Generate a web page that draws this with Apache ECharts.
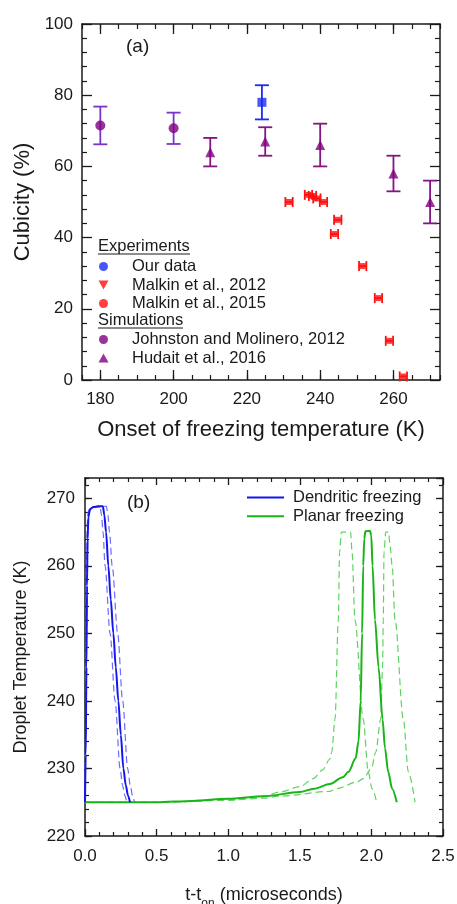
<!DOCTYPE html>
<html lang="en" style="width: 100%;height:100%">
    <head>
        <meta charset="UTF-8">
        <title>Cubicity and droplet temperature</title>
        <script src="https://cdn.jsdelivr.net/npm/echarts@6.0.0/dist/echarts.min.js"></script>
    </head>
    <body style="width: 100%;height:100%;margin:0;background:#fff">
        <div id="chart" style="width: 457px;height:904px"></div>
        <script>
            // (a) cubicity vs onset of freezing temperature
            const ourTemp = [224.1];
            const ourCub = [78];
            const ourErr = [4.8];

            const malkin12Temp = [231.5];
            const malkin12Cub = [50];
            const malkin15Temp = [236.8, 237.9, 239.1, 240.9, 244.8, 243.9, 251.6, 255.9, 258.9, 262.7];
            const malkin15Cub = [52, 51.7, 51, 50, 45, 41, 32, 23, 11, 1];
            const malkinTempErr = 1.0;

            const johnstonTemp = [180, 200];
            const johnstonCub = [71.5, 70.7];
            const johnstonErr = [5.3, 4.4];

            const hudaitTemp = [210, 225, 240, 260, 270];
            const hudaitCub = [64, 67, 66, 58, 50];
            const hudaitErr = [4, 4, 6, 5, 6];

            const tempTicks = [180, 200, 220, 240, 260];

            // (b) droplet temperature vs t - t_on
            const dendTime = [0, 0.005, 0.01, 0.014, 0.018, 0.024, 0.035, 0.06, 0.09, 0.125, 0.135, 0.147, 0.163, 0.18, 0.198, 0.215, 0.233, 0.25, 0.268, 0.285, 0.3, 0.314];
            const dendTemp = [225, 232, 245, 257, 264, 267.3, 268.4, 268.7, 268.8, 268.8, 267.5, 265, 260, 255, 250, 245, 240, 235, 230, 227.5, 226, 225];
            const dendLoTime = [0, 0.004, 0.008, 0.012, 0.016, 0.022, 0.035, 0.06, 0.105, 0.115, 0.126, 0.14, 0.175, 0.21, 0.245, 0.262, 0.278, 0.291];
            const dendLoTemp = [225, 235, 250, 262, 266.5, 268, 268.6, 268.7, 268.8, 267.5, 265, 260, 250, 240, 230, 227.5, 226, 225];
            const dendHiTime = [0, 0.006, 0.012, 0.017, 0.022, 0.03, 0.045, 0.08, 0.15, 0.16, 0.171, 0.19, 0.228, 0.263, 0.298, 0.316, 0.332, 0.345];
            const dendHiTemp = [225, 235, 250, 262, 266.5, 268, 268.6, 268.7, 268.8, 267.5, 265, 260, 250, 240, 230, 227.5, 226, 225];

            const planTime = [0, 0.5, 0.75, 1.0, 1.25, 1.5, 1.6, 1.71, 1.8, 1.84, 1.89, 1.91, 1.925, 1.935, 1.943, 1.95, 1.958, 1.99, 1.999, 2.008, 2.025, 2.05, 2.078, 2.095, 2.117, 2.145, 2.177];
            const planTemp = [225, 225, 225.2, 225.5, 225.9, 226.5, 227, 227.7, 228.7, 229.5, 231.5, 234, 240, 250, 260, 264, 265.1, 265.2, 264.5, 260, 252, 245, 237.3, 233, 229.5, 227, 225];
            const planLoTime = [0, 0.5, 1.0, 1.25, 1.36, 1.5, 1.594, 1.66, 1.71, 1.723, 1.746, 1.769, 1.778, 1.79, 1.855, 1.865, 1.885, 1.943, 1.978, 2.005, 2.037];
            const planLoTemp = [225, 225, 225.3, 225.9, 226.5, 227.3, 228.5, 229.8, 231.4, 232.4, 237.3, 252, 262, 265, 265, 262, 252, 237.3, 229.5, 227, 225];
            const planHiTime = [0, 0.5, 1.0, 1.25, 1.36, 1.71, 1.757, 1.9, 1.943, 2.0, 2.03, 2.065, 2.078, 2.083, 2.088, 2.1, 2.12, 2.13, 2.145, 2.165, 2.223, 2.258, 2.305];
            const planHiTemp = [225, 225, 225.3, 225.6, 225.9, 226.6, 227, 228, 228.5, 230, 232.4, 237.3, 245, 252, 262, 265, 265, 263, 260, 252, 237.3, 229.5, 225];

            const font = 'Liberation Sans, Arial, sans-serif';
            const ink = '#1a1a1a';

            function pairs(xs, ys) {
                const out = [];
                for (let i = 0; i < xs.length; i++) {
                    out.push([xs[i], ys[i]]);
                }
                return out;
            }

            function vErrData(xs, ys, es) {
                const out = [];
                for (let i = 0; i < xs.length; i++) {
                    out.push([xs[i], ys[i] - es[i], ys[i] + es[i]]);
                }
                return out;
            }

            function hErrData(xs, ys, e) {
                const out = [];
                for (let i = 0; i < xs.length; i++) {
                    out.push([xs[i] - e, xs[i] + e, ys[i]]);
                }
                return out;
            }

            // vertical error bar with caps
            function vErrItem(params, api) {
                const top = api.coord([api.value(0), api.value(2)]);
                const bot = api.coord([api.value(0), api.value(1)]);
                const w = 7;
                const style = {stroke: api.visual('color'), lineWidth: 1.8};
                return {
                    type: 'group',
                    children: [
                        {type: 'line', shape: {x1: top[0], y1: top[1], x2: bot[0], y2: bot[1]}, style: style},
                        {type: 'line', shape: {x1: top[0] - w, y1: top[1], x2: top[0] + w, y2: top[1]}, style: style},
                        {type: 'line', shape: {x1: bot[0] - w, y1: bot[1], x2: bot[0] + w, y2: bot[1]}, style: style}
                    ]
                };
            }

            // horizontal error bar with caps
            function hErrItem(params, api) {
                const l = api.coord([api.value(0), api.value(2)]);
                const r = api.coord([api.value(1), api.value(2)]);
                const h = 5;
                const style = {stroke: api.visual('color'), lineWidth: 1.8};
                return {
                    type: 'group',
                    children: [
                        {type: 'line', shape: {x1: l[0], y1: l[1], x2: r[0], y2: r[1]}, style: style},
                        {type: 'line', shape: {x1: l[0], y1: l[1] - h, x2: l[0], y2: l[1] + h}, style: style},
                        {type: 'line', shape: {x1: r[0], y1: r[1] - h, x2: r[0], y2: r[1] + h}, style: style}
                    ]
                };
            }

            const axisLine = {show: true, lineStyle: {color: ink, width: 1.5}};
            const labelStyle = {color: ink, fontFamily: font, fontSize: 17};
            const legendText = {color: ink, fontFamily: font, fontSize: 16.5, lineHeight: 16.5};

            const myChart = echarts.init(document.getElementById('chart'));

            const option = {
                backgroundColor: '#ffffff',
                animation: false,
                textStyle: {fontFamily: font},
                grid: [
                    {left: 82, top: 24, right: 17, bottom: 524, outerBoundsMode: 'none', containLabel: false},
                    {left: 85, top: 478, right: 14, bottom: 68, outerBoundsMode: 'none', containLabel: false}
                ],
                xAxis: [
                    {
                        gridIndex: 0, type: 'value', position: 'bottom', min: 175, max: 272.7,
                        name: 'Onset of freezing temperature (K)', nameLocation: 'middle', nameGap: 39,
                        nameTextStyle: {color: ink, fontFamily: font, fontSize: 22},
                        axisLine: axisLine,
                        axisTick: {inside: true, length: 10, customValues: tempTicks, lineStyle: {color: ink, width: 1.3}},
                        axisLabel: Object.assign({margin: 11, customValues: tempTicks}, labelStyle),
                        splitLine: {show: false}
                    },
                    {
                        gridIndex: 0, type: 'value', position: 'bottom', min: 175, max: 272.7, interval: 5,
                        axisLine: {show: false},
                        axisTick: {inside: true, length: 5, lineStyle: {color: ink, width: 1.2}},
                        axisLabel: {show: false}, splitLine: {show: false}
                    },
                    {
                        gridIndex: 0, type: 'value', position: 'top', min: 175, max: 272.7,
                        axisLine: axisLine,
                        axisTick: {inside: true, length: 10, customValues: tempTicks, lineStyle: {color: ink, width: 1.3}},
                        axisLabel: {show: false}, splitLine: {show: false}
                    },
                    {
                        gridIndex: 0, type: 'value', position: 'top', min: 175, max: 272.7, interval: 5,
                        axisLine: {show: false},
                        axisTick: {inside: true, length: 5, lineStyle: {color: ink, width: 1.2}},
                        axisLabel: {show: false}, splitLine: {show: false}
                    },
                    {
                        gridIndex: 1, type: 'value', position: 'bottom', min: 0, max: 2.5, interval: 0.5,
                        name: '{a|t-t}{s|on}{a| (microseconds)}', nameLocation: 'middle', nameGap: 50,
                        nameTextStyle: {
                            rich: {
                                a: {color: ink, fontFamily: font, fontSize: 18, lineHeight: 24, verticalAlign: 'top'},
                                s: {color: ink, fontFamily: font, fontSize: 12, lineHeight: 12, verticalAlign: 'bottom'}
                            }
                        },
                        axisLine: axisLine,
                        axisTick: {inside: true, length: 7, lineStyle: {color: ink, width: 1.3}},
                        minorTick: {show: true, splitNumber: 5, length: 4, lineStyle: {color: ink, width: 1.2}},
                        axisLabel: Object.assign({margin: 12, formatter: function (v) { return v.toFixed(1); }}, labelStyle),
                        splitLine: {show: false}, minorSplitLine: {show: false}
                    },
                    {
                        gridIndex: 1, type: 'value', position: 'top', min: 0, max: 2.5, interval: 0.5,
                        axisLine: axisLine,
                        axisTick: {inside: true, length: 7, lineStyle: {color: ink, width: 1.3}},
                        minorTick: {show: true, splitNumber: 5, length: 4, lineStyle: {color: ink, width: 1.2}},
                        axisLabel: {show: false}, splitLine: {show: false}
                    }
                ],
                yAxis: [
                    {
                        gridIndex: 0, type: 'value', position: 'left', min: 0, max: 100, interval: 20,
                        name: 'Cubicity (%)', nameLocation: 'middle', nameGap: 45,
                        nameTextStyle: {color: ink, fontFamily: font, fontSize: 22},
                        axisLine: axisLine,
                        axisTick: {inside: true, length: 10, lineStyle: {color: ink, width: 1.3}},
                        minorTick: {show: true, splitNumber: 5, length: 5, lineStyle: {color: ink, width: 1.2}},
                        axisLabel: Object.assign({margin: 9}, labelStyle),
                        splitLine: {show: false}
                    },
                    {
                        gridIndex: 0, type: 'value', position: 'right', min: 0, max: 100, interval: 20,
                        axisLine: axisLine,
                        axisTick: {inside: true, length: 10, lineStyle: {color: ink, width: 1.3}},
                        minorTick: {show: true, splitNumber: 5, length: 5, lineStyle: {color: ink, width: 1.2}},
                        axisLabel: {show: false}, splitLine: {show: false}
                    },
                    {
                        gridIndex: 1, type: 'value', position: 'left', min: 220, max: 273, interval: 10,
                        name: 'Droplet Temperature (K)', nameLocation: 'middle', nameGap: 55,
                        nameTextStyle: {color: ink, fontFamily: font, fontSize: 18},
                        axisLine: axisLine,
                        axisTick: {inside: true, length: 7, lineStyle: {color: ink, width: 1.3}},
                        axisLabel: Object.assign({margin: 10, showMaxLabel: false}, labelStyle),
                        splitLine: {show: false}
                    },
                    {
                        gridIndex: 1, type: 'value', position: 'left', min: 220, max: 273, interval: 2,
                        axisLine: {show: false},
                        axisTick: {inside: true, length: 4, lineStyle: {color: ink, width: 1.2}},
                        axisLabel: {show: false}, splitLine: {show: false}
                    },
                    {
                        gridIndex: 1, type: 'value', position: 'right', min: 220, max: 273, interval: 10,
                        axisLine: axisLine,
                        axisTick: {inside: true, length: 7, lineStyle: {color: ink, width: 1.3}},
                        axisLabel: {show: false}, splitLine: {show: false}
                    },
                    {
                        gridIndex: 1, type: 'value', position: 'right', min: 220, max: 273, interval: 2,
                        axisLine: {show: false},
                        axisTick: {inside: true, length: 4, lineStyle: {color: ink, width: 1.2}},
                        axisLabel: {show: false}, splitLine: {show: false}
                    }
                ],
                legend: [
                    {
                        left: 93.5, top: 253, orient: 'vertical', selectedMode: false,
                        itemWidth: 47, itemHeight: 9, itemGap: 1.5,
                        textStyle: legendText,
                        data: [
                            {name: 'Our data', icon: 'circle'},
                            {name: 'Malkin et al., 2012', icon: 'path://M0,0L10,0L5,9Z'},
                            {name: 'Malkin et al., 2015', icon: 'circle'}
                        ]
                    },
                    {
                        left: 93.5, top: 326, orient: 'vertical', selectedMode: false,
                        itemWidth: 47, itemHeight: 9, itemGap: 1.5,
                        textStyle: legendText,
                        data: [
                            {name: 'Johnston and Molinero, 2012', icon: 'circle'},
                            {name: 'Hudait et al., 2016', icon: 'path://M5,0L10,9L0,9Z'}
                        ]
                    },
                    {
                        left: 242, top: 484, orient: 'vertical', selectedMode: false,
                        itemWidth: 37, itemHeight: 14, itemGap: 1.8,
                        textStyle: Object.assign({padding: [0, 0, 0, 4]}, legendText),
                        data: [
                            {name: 'Dendritic freezing', icon: 'path://M0,0L37,0L37,2L0,2Z'},
                            {name: 'Planar freezing', icon: 'path://M0,0L37,0L37,2L0,2Z'}
                        ]
                    }
                ],
                graphic: [
                    {type: 'text', left: 126, top: 37, style: {text: '(a)', fill: ink, font: '19px ' + font}},
                    {type: 'text', left: 127, top: 493, style: {text: '(b)', fill: ink, font: '19px ' + font}},
                    {type: 'text', left: 98, top: 238, style: {text: 'Experiments', fill: ink, font: '16.5px ' + font}},
                    {type: 'line', shape: {x1: 98, y1: 254, x2: 190, y2: 254}, style: {stroke: ink, lineWidth: 1}},
                    {type: 'text', left: 98, top: 312, style: {text: 'Simulations', fill: ink, font: '16.5px ' + font}},
                    {type: 'line', shape: {x1: 98, y1: 328, x2: 183, y2: 328}, style: {stroke: ink, lineWidth: 1}}
                ],
                series: [
                    // error bars
                    {type: 'custom', xAxisIndex: 0, yAxisIndex: 0, renderItem: vErrItem, itemStyle: {color: '#7a35c8'}, data: vErrData(johnstonTemp, johnstonCub, johnstonErr), z: 2},
                    {type: 'custom', xAxisIndex: 0, yAxisIndex: 0, renderItem: vErrItem, itemStyle: {color: '#851485'}, data: vErrData(hudaitTemp, hudaitCub, hudaitErr), z: 2},
                    {type: 'custom', xAxisIndex: 0, yAxisIndex: 0, renderItem: vErrItem, itemStyle: {color: '#1a2cf5'}, data: vErrData(ourTemp, ourCub, ourErr), z: 2},
                    {type: 'custom', xAxisIndex: 0, yAxisIndex: 0, renderItem: hErrItem, itemStyle: {color: '#ff1010'}, data: hErrData(malkin12Temp, malkin12Cub, malkinTempErr), z: 2},
                    {type: 'custom', xAxisIndex: 0, yAxisIndex: 0, renderItem: hErrItem, itemStyle: {color: '#ff1010'}, data: hErrData(malkin15Temp, malkin15Cub, malkinTempErr), z: 2},
                    // markers
                    {name: 'Our data', type: 'scatter', xAxisIndex: 0, yAxisIndex: 0, symbol: 'rect', symbolSize: 9, itemStyle: {color: '#1a2cf5'}, data: pairs(ourTemp, ourCub), z: 3},
                    {name: 'Malkin et al., 2012', type: 'scatter', xAxisIndex: 0, yAxisIndex: 0, symbol: 'rect', symbolSize: 6, itemStyle: {color: '#ff1010'}, data: pairs(malkin12Temp, malkin12Cub), z: 3},
                    {name: 'Malkin et al., 2015', type: 'scatter', xAxisIndex: 0, yAxisIndex: 0, symbol: 'rect', symbolSize: 6, itemStyle: {color: '#ff1010'}, data: pairs(malkin15Temp, malkin15Cub), z: 3},
                    {name: 'Johnston and Molinero, 2012', type: 'scatter', xAxisIndex: 0, yAxisIndex: 0, symbol: 'circle', symbolSize: 10, itemStyle: {color: '#800080'}, data: pairs(johnstonTemp, johnstonCub), z: 3},
                    {name: 'Hudait et al., 2016', type: 'scatter', xAxisIndex: 0, yAxisIndex: 0, symbol: 'triangle', symbolSize: 10, itemStyle: {color: '#800080'}, data: pairs(hudaitTemp, hudaitCub), z: 3},
                    // panel (b)
                    {type: 'line', xAxisIndex: 4, yAxisIndex: 2, symbol: 'none', smooth: 0.3, smoothMonotone: 'x', lineStyle: {color: '#6b6bff', width: 1.2, type: [7, 4]}, data: pairs(dendLoTime, dendLoTemp)},
                    {type: 'line', xAxisIndex: 4, yAxisIndex: 2, symbol: 'none', smooth: 0.3, smoothMonotone: 'x', lineStyle: {color: '#6b6bff', width: 1.2, type: [7, 4]}, data: pairs(dendHiTime, dendHiTemp)},
                    {type: 'line', xAxisIndex: 4, yAxisIndex: 2, symbol: 'none', smooth: 0.3, smoothMonotone: 'x', lineStyle: {color: '#5fd35f', width: 1.2, type: [7, 4]}, data: pairs(planLoTime, planLoTemp)},
                    {type: 'line', xAxisIndex: 4, yAxisIndex: 2, symbol: 'none', smooth: 0.3, smoothMonotone: 'x', lineStyle: {color: '#5fd35f', width: 1.2, type: [7, 4]}, data: pairs(planHiTime, planHiTemp)},
                    {name: 'Planar freezing', type: 'line', xAxisIndex: 4, yAxisIndex: 2, symbol: 'none', smooth: 0.3, smoothMonotone: 'x', itemStyle: {color: '#18b418'}, lineStyle: {color: '#18b418', width: 2}, data: pairs(planTime, planTemp)},
                    {name: 'Dendritic freezing', type: 'line', xAxisIndex: 4, yAxisIndex: 2, symbol: 'none', smooth: 0.3, smoothMonotone: 'x', itemStyle: {color: '#1515f0'}, lineStyle: {color: '#1515f0', width: 2}, data: pairs(dendTime, dendTemp)}
                ]
            };

            myChart.setOption(option);
        </script>
    </body>
</html>
